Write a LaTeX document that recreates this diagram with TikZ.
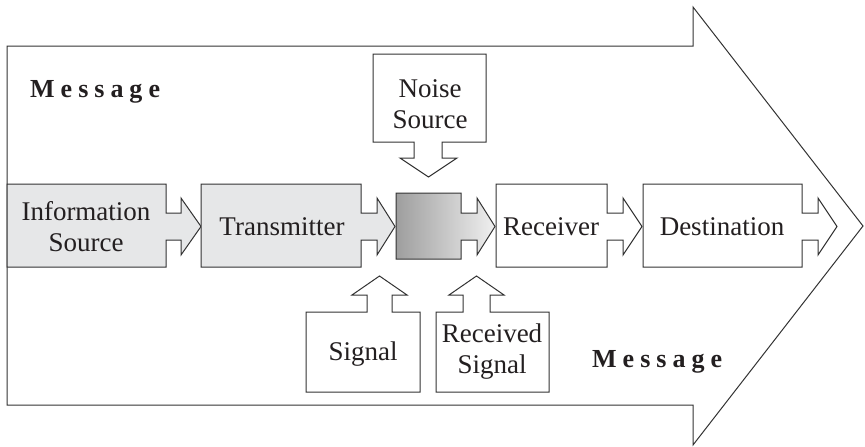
\documentclass[tikz,border=0pt]{standalone}
\usepackage{fontspec}
\setmainfont{Liberation Serif}
\definecolor{linec}{HTML}{333333}
\definecolor{boxfill}{HTML}{E6E7E8}
\definecolor{txt}{HTML}{231F20}
\tikzset{
  shapeline/.style={draw=linec, line width=1pt, line join=miter},
  lbl/.style={text=txt, font=\fontsize{27}{31}\selectfont, align=center, inner sep=0pt},
  msg/.style={text=txt, font=\fontsize{26}{30}\selectfont\bfseries, inner sep=0pt, anchor=base west}
}
\newcommand\spc{\hspace{6pt}}
\begin{document}
\begin{tikzpicture}[x=1pt,y=-1pt]
\useasboundingbox (0,0) rectangle (865,447);
% big arrow
\draw[shapeline, fill=white] (7,46) -- (693,46) -- (693,7) -- (863,226) -- (693,445) -- (693,405) -- (7,405) -- cycle;
% Information Source
\draw[shapeline, fill=boxfill] (7,184) -- (166,184) -- (166,213) -- (181,213) -- (181,198) -- (201,226.5) -- (181,255) -- (181,240) -- (166,240) -- (166,267) -- (7,267) -- cycle;
% Transmitter
\draw[shapeline, fill=boxfill] (201,184) -- (361,184) -- (361,213) -- (377,213) -- (377,198) -- (395,226.5) -- (377,255) -- (377,240) -- (361,240) -- (361,267) -- (201,267) -- cycle;
% channel (gray gradient)
\draw[shapeline, left color=black!38, right color=black!6, shading angle=90] (396,193) -- (461,193) -- (461,213) -- (477,213) -- (477,198) -- (495,226.5) -- (477,255) -- (477,240) -- (461,240) -- (461,259) -- (396,259) -- cycle;
% Receiver
\draw[shapeline, fill=white] (496,184) -- (607,184) -- (607,213) -- (623,213) -- (623,198) -- (642,226.5) -- (623,255) -- (623,240) -- (607,240) -- (607,267) -- (496,267) -- cycle;
% Destination
\draw[shapeline, fill=white] (643,184) -- (802,184) -- (802,213) -- (818,213) -- (818,198) -- (837,226.5) -- (818,255) -- (818,240) -- (802,240) -- (802,267) -- (643,267) -- cycle;
% Noise Source
\draw[shapeline, fill=white] (373,54) -- (486,54) -- (486,142) -- (442,142) -- (442,158) -- (457,158) -- (428.5,177) -- (400,158) -- (414,158) -- (414,142) -- (373,142) -- cycle;
% Signal
\draw[shapeline, fill=white] (306,392) -- (306,312) -- (367,312) -- (367,295) -- (352,295) -- (379.5,276) -- (407,295) -- (392,295) -- (392,312) -- (420,312) -- (420,392) -- cycle;
% Received Signal
\draw[shapeline, fill=white] (436,392) -- (436,312) -- (463,312) -- (463,295) -- (449,295) -- (476.5,276) -- (504,295) -- (490,295) -- (490,312) -- (549,312) -- (549,392) -- cycle;
% labels
\node[lbl] (info) at (86,227) {Information\\Source};
\node[lbl] (trans) at (282,227) {Transmitter};
\node[lbl] (recv) at (551,227) {Receiver};
\node[lbl] (dest) at (722,227) {Destination};
\node[lbl] (noise) at (430,104) {Noise\\Source};
\node[lbl] (sig) at (363,354) {Signal};
\node[lbl] (rsig) at (492,352) {Received\\Signal};
\node[msg] (msgtop) at (30,97) {M\spc e\spc s\spc s\spc a\spc g\spc e};
\node[msg] (msgbot) at (592,367) {M\spc e\spc s\spc s\spc a\spc g\spc e};
\end{tikzpicture}
\end{document}
